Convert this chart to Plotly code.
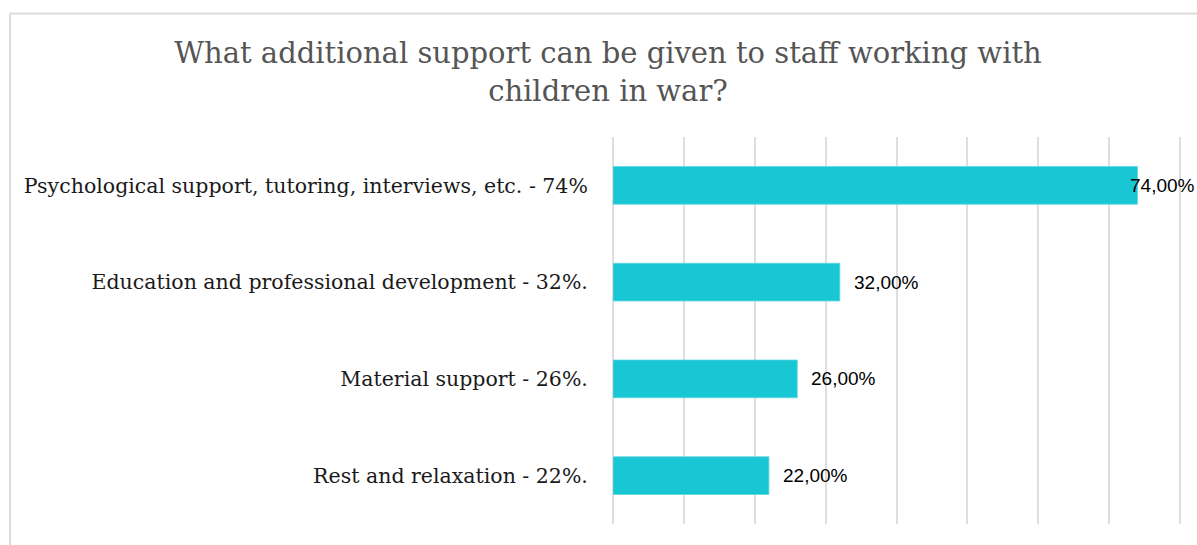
import plotly.graph_objects as go

# Survey answers, top to bottom as listed
categories = [
    "Psychological support, tutoring, interviews, etc. - 74%",
    "Education and professional development - 32%.",
    "Material support - 26%.",
    "Rest and relaxation - 22%.",
]
shares = [74, 32, 26, 22]
value_labels = ["74,00%", "32,00%", "26,00%", "22,00%"]

title_text = "What additional support can be given to staff working with<br>children in war?"

W, H = 1197, 545
M_L, M_R, M_T, M_B = 613, 0, 137, 21
X_MAX = 82.4

fig = go.Figure(
    go.Bar(
        x=shares,
        y=categories,
        orientation="h",
        width=0.39,
        marker=dict(color="#18c7d3", line=dict(color="#5fd8e0", width=0.8)),
        hoverinfo="skip",
    )
)

# value labels to the right of each bar; the longest one is pulled back
# over the bar end so it stays inside the figure
for cat, v, lab in zip(categories, shares, value_labels):
    shift = -9 if v > 70 else 12
    fig.add_annotation(
        x=v, y=cat, xref="x", yref="y", text=lab, showarrow=False,
        xanchor="left", yanchor="middle", xshift=shift,
        font=dict(family="Liberation Sans, Arial, sans-serif", size=19, color="#000000"),
    )

# light frame around the chart (top and left edges)
pw = W - M_L - M_R
ph = H - M_T - M_B
def px_x(px):
    return (px - M_L) / pw
def px_y(py):
    return (H - M_B - py) / ph

frame = dict(color="#dcdcdc", width=2)
fig.add_shape(type="line", xref="paper", yref="paper",
              x0=px_x(10), x1=px_x(1200), y0=px_y(13.5), y1=px_y(13.5), line=frame)
fig.add_shape(type="line", xref="paper", yref="paper",
              x0=px_x(10), x1=px_x(10), y0=px_y(13.5), y1=px_y(548), line=frame)

fig.update_layout(
    width=W, height=H,
    margin=dict(l=M_L, r=M_R, t=M_T, b=M_B, pad=0),
    paper_bgcolor="white", plot_bgcolor="white",
    showlegend=False,
    title=dict(
        text=title_text, x=608 / W, xanchor="center",
        y=1 - 63 / H, yanchor="top",
        font=dict(family="Georgia, DejaVu Serif, serif", size=29, color="#555555"),
    ),
    xaxis=dict(
        range=[0, X_MAX], dtick=10, showticklabels=False, ticks="",
        showgrid=True, gridcolor="#dedede", gridwidth=1.5,
        zeroline=True, zerolinecolor="#dedede", zerolinewidth=1.5,
        showline=False, fixedrange=True,
    ),
    yaxis=dict(
        categoryorder="array", categoryarray=categories[::-1],
        ticks="outside", ticklen=20, tickcolor="rgba(0,0,0,0)",
        tickfont=dict(family="Georgia, DejaVu Serif, serif", size=20.5, color="#1a1a1a"),
        showgrid=False, zeroline=False, showline=False, fixedrange=True,
    ),
)

fig.write_html("out.html")
